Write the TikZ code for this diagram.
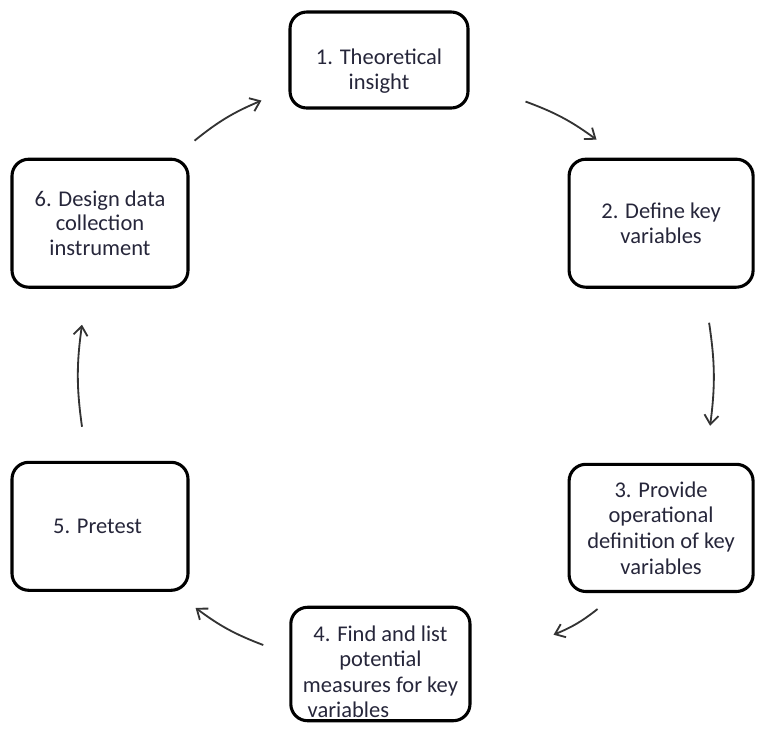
\documentclass[tikz,border=0pt]{standalone}
\usepackage{fontspec}
\setmainfont{Carlito}
\usepackage{tikz}
\usetikzlibrary{arrows.meta, positioning, calc}
\definecolor{txtgray}{RGB}{38,38,58}
\tikzset{
    stepbox/.style={
        rectangle,
        rounded corners=0.42cm,
        draw=black,
        line width=2.2pt,
        minimum width=4.4cm,
        minimum height=3.2cm,
        inner sep=2pt,
        align=center,
        text=txtgray,
        font=\fontsize{16}{17.5}\selectfont
    },
    cyc/.style={
        draw=black!80,
        line width=1.3pt,
        -{Straight Barb[length=6.5pt,width=10pt]}
    },
}
\begin{document}
\begin{tikzpicture}

\useasboundingbox (0,0) rectangle (19.1,-18.375);

% State 1
\node[stepbox, minimum width=4.45cm, minimum height=2.4cm] (s1) at (9.475,-1.5) {
    \rule{0pt}{27pt}1. Theoretical\\
    insight
};

% State 6
\node[stepbox] (s6) at (2.5,-5.58) {
    6. Design data\\
    collection\\
    instrument
};

% State 2
\node[stepbox, right=9.45cm of s6, minimum width=4.6cm] (s2) {
    2. Define key\\
    variables
};

% State 5
\node[stepbox, below=4.3cm of s6] (s5) {
    5. Pretest
};

% State 3
\node[stepbox, below=4.35cm of s2, minimum width=4.6cm, minimum height=3.18cm,
      font=\fontsize{16}{18.2}\selectfont] (s3) {
    3. Provide\\
    operational\\
    definition of key\\
    variables
};

% State 4
\node[stepbox, minimum width=4.48cm, minimum height=2.8cm,
      font=\fontsize{16}{18.2}\selectfont] (s4) at (9.51,-16.6) {
    \rule{0pt}{22pt}4. Find and list\\
    potential\\
    measures for key\\
    variables\hspace*{1.6cm}
};

% Arrows round the cycle
\draw[cyc] ([shift={(0.125,0.425)}]s6.north east) to[bend left=8] ([shift={(-0.675,0.225)}]s1.south west);
\draw[cyc] ([shift={(1.4,0.2)}]s1.south east) to[bend left=8] ([shift={(0.725,0.45)}]s2.north west);
\draw[cyc] ([shift={(1.2,-0.85)}]s2.south) to[bend left=8] ([shift={(1.225,0.925)}]s3.north);
\draw[cyc] ([shift={(0.75,-0.4)}]s3.south west) to[bend left=8] ([shift={(2.05,-0.725)}]s4.north east);
\draw[cyc] ([shift={(-0.65,0.475)}]s4.west) to[bend left=8] ([shift={(0.15,-0.4)}]s5.south east);
\draw[cyc] ([shift={(-0.45,0.85)}]s5.north) to[bend left=8] ([shift={(-0.45,-0.9)}]s6.south);

\end{tikzpicture}
\end{document}
